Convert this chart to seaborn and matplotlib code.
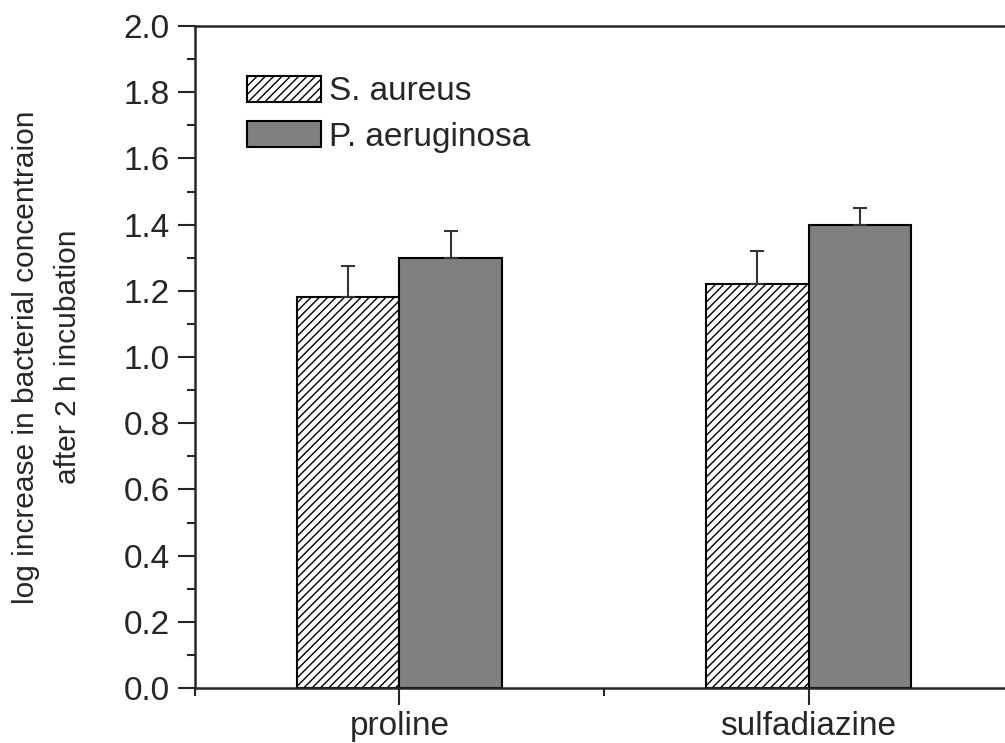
import numpy as np
import pandas as pd
import matplotlib
matplotlib.use("Agg")
import matplotlib.pyplot as plt
import seaborn as sns
from matplotlib.ticker import MultipleLocator, FixedLocator, FormatStrFormatter

# data
groups = ['proline', 'sulfadiazine']
species = ['S. aureus', 'P. aeruginosa']
s_aureus_vals = [1.18, 1.22]
p_aerug_vals = [1.30, 1.40]
s_aureus_err = [0.095, 0.10]
p_aerug_err = [0.08, 0.05]

df = pd.DataFrame({
    'group': groups * 2,
    'species': [species[0]] * 2 + [species[1]] * 2,
    'value': s_aureus_vals + p_aerug_vals,
})
errs = s_aureus_err + p_aerug_err

sns.set_style("ticks")
plt.rcParams['font.family'] = ['Liberation Sans', 'DejaVu Sans']
plt.rcParams['hatch.linewidth'] = 1.0

fig = plt.figure(figsize=(10.05, 7.43), dpi=100)
ax = fig.add_axes([0.194, 0.074, 0.814, 0.891])

sns.barplot(data=df, x='group', y='value', hue='species', order=groups,
            hue_order=species, palette=['white', '#808080'], width=0.5,
            edgecolor='black', linewidth=1.5, errorbar=None, ax=ax)

# hatch the S. aureus bars, add upper error bars
bars = ax.patches[:4]
for i, bar in enumerate(bars):
    if i < 2:
        bar.set_hatch('////')
    xc = bar.get_x() + bar.get_width() / 2
    ax.errorbar(xc, bar.get_height(), yerr=[[0], [errs[i]]], fmt='none',
                ecolor='#333333', elinewidth=1.5, capsize=5, capthick=1.5)

ax.set_xlim(-0.5, 1.5)
ax.set_ylim(0, 2.0)
ax.yaxis.set_major_locator(MultipleLocator(0.2))
ax.yaxis.set_minor_locator(MultipleLocator(0.1))
ax.yaxis.set_major_formatter(FormatStrFormatter('%.1f'))
ax.xaxis.set_minor_locator(FixedLocator([-0.5, 0.5]))
ax.tick_params(axis='both', which='major', labelsize=24, length=12, width=1.5, pad=6)
ax.tick_params(axis='both', which='minor', length=6, width=1.5)
ax.tick_params(axis='x', which='major', pad=4.5)

for side in ['top', 'bottom', 'left', 'right']:
    ax.spines[side].set_linewidth(1.8)
    ax.spines[side].set_visible(True)

ax.set_xlabel('')
ax.set_ylabel('log increase in bacterial concentraion\nafter 2 h incubation',
              fontsize=21.5, labelpad=30, linespacing=1.65)

# legend handles need the hatch too
handles, labels = ax.get_legend_handles_labels()
handles[0].set_hatch('////')
leg = ax.legend(handles, labels, loc='upper left', bbox_to_anchor=(0.064, 0.925),
                frameon=False, fontsize=24, handlelength=2.2, handleheight=0.85,
                handletextpad=0.25, labelspacing=0.4, borderaxespad=0,
                borderpad=0)

fig.savefig('out.png', dpi=100)
